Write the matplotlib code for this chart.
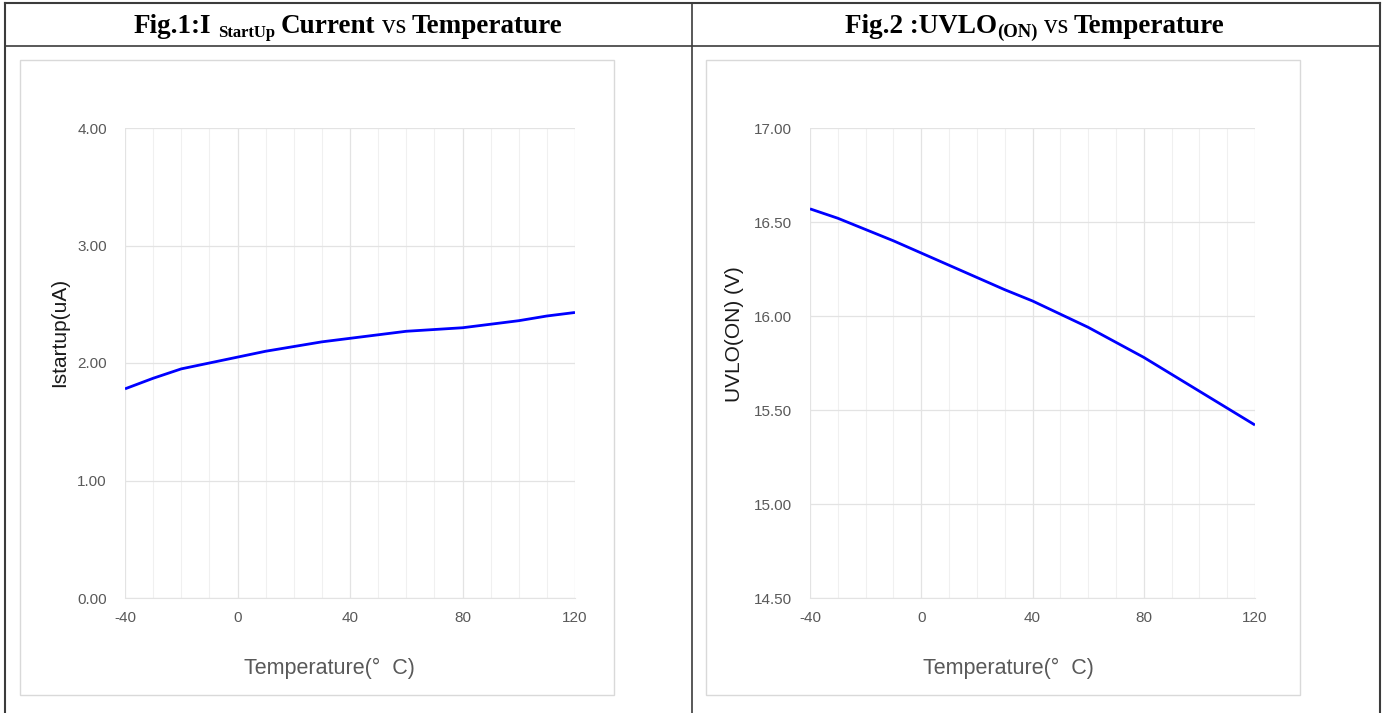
import matplotlib
matplotlib.use("Agg")
import matplotlib.pyplot as plt
from matplotlib.patches import Rectangle
from matplotlib.lines import Line2D
from matplotlib.ticker import MultipleLocator, FormatStrFormatter

plt.rcParams["axes.unicode_minus"] = False

# data
temps = [-40, -30, -20, -10, 0, 10, 20, 30, 40, 50, 60, 70, 80, 90, 100, 110, 120]
istartup = [1.78, 1.87, 1.95, 2.00, 2.05, 2.10, 2.14, 2.18, 2.21, 2.24, 2.27, 2.285,
            2.30, 2.33, 2.36, 2.40, 2.43]
uvlo_on = [16.57, 16.52, 16.46, 16.40, 16.335, 16.27, 16.205, 16.14, 16.08, 16.01,
           15.94, 15.86, 15.78, 15.69, 15.60, 15.51, 15.42]
x_ticks = [-40, 0, 40, 80, 120]

W, H = 1384, 713
fig = plt.figure(figsize=(W / 100, H / 100), dpi=100)
fig.patch.set_facecolor("white")


def fx(px):
    return px / W


def fy(py):
    return 1 - py / H


def hline(x0, x1, y, **kw):
    fig.add_artist(Line2D([fx(x0), fx(x1)], [fy(y), fy(y)], transform=fig.transFigure, **kw))


def vline(x, y0, y1, **kw):
    fig.add_artist(Line2D([fx(x), fx(x)], [fy(y0), fy(y1)], transform=fig.transFigure, **kw))


# table frame
tcol = "#3c3c3c"
hline(5, 1380, 3, color=tcol, lw=1.5)
hline(5, 1380, 46, color=tcol, lw=1.2)
vline(5, 3, 713, color=tcol, lw=1.5)
vline(692, 3, 713, color=tcol, lw=1.2)
vline(1380, 3, 713, color=tcol, lw=1.5)

renderer = fig.canvas.get_renderer()


def rich_title(xc, base_py, parts):
    # parts: (text, size, weight, dy_px, gap_after_px)
    arts = []
    total = 0
    for txt, size, weight, dy, gap in parts:
        t = fig.text(0, 0, txt, fontsize=size, fontweight=weight,
                     family="Liberation Serif", va="baseline", ha="left")
        w = t.get_window_extent(renderer).width
        arts.append((t, w, dy, gap))
        total += w + gap
    total -= arts[-1][3]
    x = xc - total / 2
    for t, w, dy, gap in arts:
        t.set_position((fx(x), fy(base_py + dy)))
        x += w + gap


rich_title(348, 33, [("Fig.1:I", 19.5, "bold", 0, 7),
                     ("StartUp", 12, "bold", 4, 6),
                     ("Current", 19.5, "bold", 0, 6),
                     ("vs", 19.5, "normal", 0, 6),
                     ("Temperature", 19.5, "bold", 0, 0)])
rich_title(1035, 33, [("Fig.2 :UVLO", 19.5, "bold", 0, 0),
                      ("(ON)", 13.5, "bold", 4, 6),
                      ("vs", 19.5, "normal", 0, 6),
                      ("Temperature", 19.5, "bold", 0, 0)])

gray = "#595959"
tick_font = ["Liberation Sans Narrow", "Liberation Sans"]


def chart(box, area, y, ylim, ystep, ylabel, ylabel_x, ylabel_y, xlabel_xc):
    bx0, by0, bx1, by1 = box
    fig.add_artist(Rectangle((fx(bx0), fy(by1)), fx(bx1 - bx0), (by1 - by0) / H,
                             transform=fig.transFigure, fill=False,
                             edgecolor="#d9d9d9", lw=1.0))
    ax0, ay0, ax1, ay1 = area
    ax = fig.add_axes([fx(ax0), fy(ay1), fx(ax1 - ax0), (ay1 - ay0) / H])
    ax.plot(temps, y, color="#0000ff", lw=2.0, solid_capstyle="butt", zorder=3)
    ax.set_xlim(-40, 120)
    ax.set_ylim(*ylim)
    ax.set_xticks(x_ticks)
    ax.xaxis.set_minor_locator(MultipleLocator(10))
    ax.yaxis.set_major_locator(MultipleLocator(ystep))
    ax.yaxis.set_major_formatter(FormatStrFormatter("%.2f"))
    ax.grid(True, which="major", color="#e3e3e3", lw=0.9)
    ax.grid(True, which="minor", axis="x", color="#f0f0f0", lw=0.8)
    for s in ["top", "right", "left"]:
        ax.spines[s].set_visible(False)
    ax.spines["bottom"].set_color("#e3e3e3")
    ax.tick_params(which="both", length=0, colors=gray, labelsize=11)
    ax.tick_params(axis="y", pad=13)
    ax.tick_params(axis="x", pad=9)
    for lab in ax.get_xticklabels() + ax.get_yticklabels():
        lab.set_family(tick_font)
    fig.text(fx(ylabel_x), fy(ylabel_y), ylabel, rotation=90, ha="center",
             va="center", fontsize=15, color="#1a1a1a", family="Liberation Sans")
    fig.text(fx(xlabel_xc), fy(668), "Temperature(\u00b0  C)", ha="center", va="center",
             fontsize=15.5, color=gray, family=["Liberation Sans", "Noto Sans CJK SC"])
    return ax


chart((20, 60, 614, 695), (125, 128, 575, 598), istartup, (0, 4), 1.0,
      "Istartup(uA)", 60, 332, 329)
chart((706, 60, 1300, 695), (810, 128, 1255, 598), uvlo_on, (14.5, 17), 0.5,
      "UVLO(ON) (V)", 735, 334, 1008)

plt.savefig("out.png", dpi=100)
